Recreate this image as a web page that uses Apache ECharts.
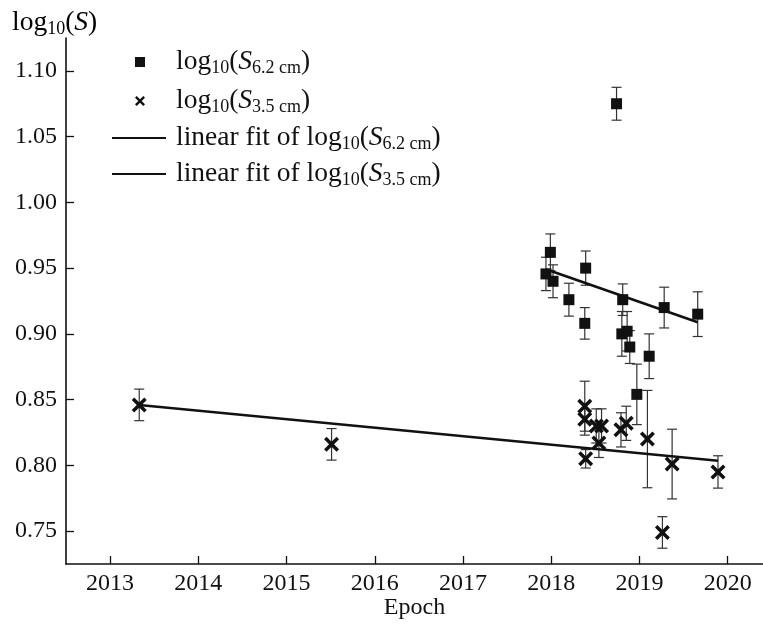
<!DOCTYPE html>
<html>
<head>
<meta charset="utf-8">
<script src="https://cdn.jsdelivr.net/npm/echarts@6/dist/echarts.min.js"></script>
<style>
  html, body { margin: 0; padding: 0; background: #fff; }
  #chart { width: 763px; height: 626px; }
</style>
</head>
<body>
<div id="chart"></div>
<script>
// Flux density at 6.2 cm: epoch, log10(S), error
const epoch62 = [2017.94, 2017.99, 2018.02, 2018.20, 2018.39, 2018.38, 2018.74, 2018.81, 2018.80, 2018.86, 2018.89, 2018.97, 2019.11, 2019.28, 2019.66];
const logS62  = [0.9456, 0.962, 0.940, 0.926, 0.950, 0.908, 1.075, 0.926, 0.900, 0.902, 0.890, 0.854, 0.883, 0.920, 0.915];
const err62   = [0.0127, 0.014, 0.0125, 0.0125, 0.013, 0.012, 0.0125, 0.012, 0.017, 0.015, 0.0125, 0.023, 0.017, 0.0155, 0.017];

// Flux density at 3.5 cm
const epoch35 = [2013.33, 2015.51, 2018.38, 2018.38, 2018.39, 2018.51, 2018.57, 2018.54, 2018.79, 2018.85, 2019.09, 2019.26, 2019.37, 2019.89];
const logS35  = [0.846, 0.816, 0.845, 0.835, 0.805, 0.830, 0.830, 0.817, 0.827, 0.832, 0.820, 0.749, 0.801, 0.795];
const err35   = [0.012, 0.012, 0.019, 0.012, 0.007, 0.013, 0.013, 0.011, 0.013, 0.013, 0.037, 0.012, 0.0265, 0.0123];

// Linear fits (end points)
const fit62X = [2017.94, 2019.66];
const fit62Y = [0.9492, 0.9088];
const fit35X = [2013.33, 2019.89];
const fit35Y = [0.8459, 0.8035];

// Tick labels
const xTicks = [2013, 2014, 2015, 2016, 2017, 2018, 2019, 2020];
const yTicks = [0.75, 0.80, 0.85, 0.90, 0.95, 1.00, 1.05, 1.10];

const FONT = '"Liberation Serif", "DejaVu Serif", serif';
const INK = '#111';

const pts = (xs, ys) => xs.map((x, i) => [x, ys[i]]);
const bars = (xs, ys, es) => xs.map((x, i) => [x, ys[i] - es[i], ys[i] + es[i]]);

function errorBar(params, api) {
  const x = api.value(0);
  const lo = api.coord([x, api.value(1)]);
  const hi = api.coord([x, api.value(2)]);
  const cap = 5;
  const style = { stroke: '#333', lineWidth: 1.2 };
  return {
    type: 'group',
    children: [
      { type: 'line', shape: { x1: hi[0], y1: hi[1], x2: lo[0], y2: lo[1] }, style },
      { type: 'line', shape: { x1: hi[0] - cap, y1: hi[1], x2: hi[0] + cap, y2: hi[1] }, style },
      { type: 'line', shape: { x1: lo[0] - cap, y1: lo[1], x2: lo[0] + cap, y2: lo[1] }, style }
    ]
  };
}

const CROSS = 'path://M2,0 L6,4 L10,0 L12,2 L8,6 L12,10 L10,12 L6,8 L2,12 L0,10 L4,6 L0,2 Z';

const N62 = 'log10(S6.2 cm)';
const N35 = 'log10(S3.5 cm)';
const F62 = 'linear fit of log10(S6.2 cm)';
const F35 = 'linear fit of log10(S3.5 cm)';

const richLabel = {
  [N62]: '{n|log}{s|10}{n|(}{i|S}{s|6.2 cm}{n|)}',
  [N35]: '{n|log}{s|10}{n|(}{i|S}{s|3.5 cm}{n|)}',
  [F62]: '{n|linear fit of log}{s|10}{n|(}{i|S}{s|6.2 cm}{n|)}',
  [F35]: '{n|linear fit of log}{s|10}{n|(}{i|S}{s|3.5 cm}{n|)}'
};
const rich = {
  n: { fontFamily: FONT, fontSize: 27.5, lineHeight: 30, color: INK },
  i: { fontFamily: FONT, fontSize: 27.5, lineHeight: 30, fontStyle: 'italic', color: INK },
  s: { fontFamily: FONT, fontSize: 18, lineHeight: 18, verticalAlign: 'bottom', color: INK }
};

const chart = echarts.init(document.getElementById('chart'), null, { renderer: 'canvas' });
chart.setOption({
  backgroundColor: '#fff',
  animation: false,
  textStyle: { fontFamily: FONT, color: INK },
  grid: { left: 66, right: 0, top: 38, bottom: 62, containLabel: false, outerBoundsMode: 'none' },
  xAxis: {
    type: 'value',
    min: 2012.5,
    max: 2020.4,
    name: 'Epoch',
    nameLocation: 'middle',
    nameGap: 32,
    nameMoveOverlap: false,
    nameTextStyle: { fontFamily: FONT, fontSize: 24, color: INK },
    axisLine: { lineStyle: { color: INK, width: 1.6 } },
    axisTick: { inside: true, length: 8, customValues: xTicks, lineStyle: { color: INK, width: 1.3 } },
    axisLabel: { customValues: xTicks, margin: 8, fontFamily: FONT, fontSize: 24, color: INK, formatter: v => String(Math.round(v)) },
    splitLine: { show: false }
  },
  yAxis: {
    type: 'value',
    min: 0.725,
    max: 1.125,
    axisLine: { show: true, lineStyle: { color: INK, width: 1.6 } },
    axisTick: { show: true, inside: true, length: 8, customValues: yTicks, lineStyle: { color: INK, width: 1.3 } },
    axisLabel: { customValues: yTicks, margin: 9, fontFamily: FONT, fontSize: 24, color: INK, formatter: v => v.toFixed(2) },
    splitLine: { show: false }
  },
  graphic: [{
    type: 'text',
    left: 12,
    top: 9,
    style: {
      text: '{n|log}{s|10}{n|(}{i|S}{n|)}',
      rich: rich
    }
  }],
  legend: [{
    data: [N62, N35],
    orient: 'vertical',
    left: 135,
    top: 48,
    padding: 0,
    itemWidth: 10,
    itemHeight: 10,
    itemGap: 10,
    formatter: name => richLabel[name],
    textStyle: { padding: [0, 0, 0, 26], rich: rich },
    selectedMode: false
  }, {
    data: [{ name: F62, icon: 'rect' }, { name: F35, icon: 'rect' }],
    orient: 'vertical',
    left: 112,
    top: 124,
    padding: 0,
    itemWidth: 54,
    itemHeight: 2.2,
    itemGap: 7,
    formatter: name => richLabel[name],
    textStyle: { padding: [0, 0, 0, 5], rich: rich },
    selectedMode: false
  }],
  series: [
    {
      type: 'custom',
      name: 'err62',
      renderItem: errorBar,
      data: bars(epoch62, logS62, err62),
      encode: { x: 0, y: [1, 2] },
      z: 1
    },
    {
      type: 'custom',
      name: 'err35',
      renderItem: errorBar,
      data: bars(epoch35, logS35, err35),
      encode: { x: 0, y: [1, 2] },
      z: 1
    },
    {
      type: 'line',
      name: F62,
      data: pts(fit62X, fit62Y),
      symbol: 'none',
      lineStyle: { color: INK, width: 2.6 },
      itemStyle: { color: INK },
      z: 2
    },
    {
      type: 'line',
      name: F35,
      data: pts(fit35X, fit35Y),
      symbol: 'none',
      lineStyle: { color: INK, width: 2.6 },
      itemStyle: { color: INK },
      z: 2
    },
    {
      type: 'scatter',
      name: N62,
      data: pts(epoch62, logS62),
      symbol: 'rect',
      symbolSize: 11,
      itemStyle: { color: INK, opacity: 1 },
      z: 3
    },
    {
      type: 'scatter',
      name: N35,
      data: pts(epoch35, logS35),
      symbol: CROSS,
      symbolSize: 15,
      itemStyle: { color: INK, opacity: 1 },
      z: 3
    }
  ]
});
</script>
</body>
</html>
